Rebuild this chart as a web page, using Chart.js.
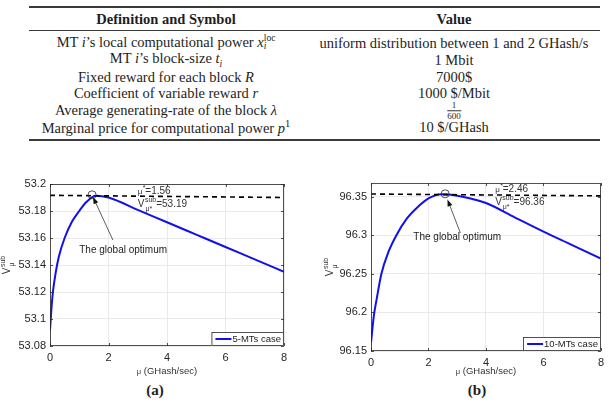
<!DOCTYPE html>
<html>
<head>
<meta charset="utf-8">
<script src="https://cdn.jsdelivr.net/npm/chart.js@4.4.0/dist/chart.umd.min.js"></script>
<style>
body { margin:0; width:609px; height:405px; background:#fff; position:relative; overflow:hidden; font-family:'Liberation Serif', 'DejaVu Serif', serif; color:#1e1e1e; }
.rule { position:absolute; left:29px; width:571px; background:#3a3a3a; }
.cell { position:absolute; transform:translate(-50%,-50%); white-space:nowrap; font-size:14.5px; line-height:1; }
.head { font-weight:bold; }
.ss { display:inline-block; vertical-align:middle; line-height:0.8; font-size:9.5px; text-align:left; position:relative; top:-1px; }
.ss span { display:block; }
.frac { display:inline-block; vertical-align:middle; font-size:9px; line-height:1; text-align:center; }
.frac span { display:block; }
.frac .den { border-top:0.8px solid #333; padding-top:0.5px; }
.cap { position:absolute; transform:translate(-50%,-50%); font-weight:bold; font-size:15px; }
canvas { position:absolute; }
</style>
</head>
<body>
<div class="rule" style="top:6px;height:1.5px"></div>
<div class="rule" style="top:30px;height:1px"></div>
<div class="rule" style="top:139px;height:2px"></div>
<div class="cell head" style="left:166px;top:19px">Definition and Symbol</div>
<div class="cell head" style="left:454px;top:19px">Value</div>
<div id="rows"></div>

<canvas id="ca" width="305" height="220" style="left:0;top:160px"></canvas>
<canvas id="cb" width="304" height="220" style="left:305px;top:160px"></canvas>
<div class="cap" style="left:155px;top:390px">(a)</div>
<div class="cap" style="left:477px;top:390px">(b)</div>

<script>
// table text
var defs = [
    "MT <i>i</i>’s local computational power <i>x</i><span class='ss'><span>loc</span><span><i>i</i></span></span>",
    "MT <i>i</i>’s block-size <i>t<sub style='font-size:9.5px'>i</sub></i>",
    "Fixed reward for each block <i>R</i>",
    "Coefficient of variable reward <i>r</i>",
    "Average generating-rate of the block <i>λ</i>",
    "Marginal price for computational power <i>p</i><sup style='font-size:10.5px'>1</sup>"
];
var vals = [
    "uniform distribution between 1 and 2 GHash/s",
    "1 Mbit",
    "7000$",
    "1000 $/Mbit",
    "<span class='frac'><span>1</span><span class='den'>600</span></span>",
    "10 $/GHash"
];

// chart data
var tickX = [0, 2, 4, 6, 8];
var tickYA = [53.08, 53.1, 53.12, 53.14, 53.16, 53.18, 53.2];
var tickYB = [96.15, 96.2, 96.25, 96.3, 96.35];

var muA = [0, 0.05, 0.1, 0.2, 0.3, 0.5, 0.75, 1.0, 1.25, 1.56, 2, 3, 4, 5, 6, 7, 8];
var vA = [53.0917, 53.108, 53.12, 53.135, 53.146, 53.160, 53.172, 53.180, 53.1868, 53.1913, 53.1900, 53.1808, 53.1717, 53.1625, 53.1533, 53.1442, 53.135];
var muB = [0, 0.1, 0.2, 0.36, 0.6, 0.88, 1.25, 1.6, 2.0, 2.46, 3.0, 3.5, 4, 5, 6, 7, 8];
var vB = [96.1608, 96.196, 96.218, 96.25, 96.278, 96.30, 96.322, 96.336, 96.348, 96.3534, 96.3515, 96.3475, 96.342, 96.3235, 96.305, 96.2875, 96.2698];

var dashA = [53.1916, 53.1900];   // at mu = 0 and mu = 8
var dashB = [96.3537, 96.3513];
var optA = [1.44, 53.192];
var optB = [2.58, 96.354];
var muStar = ['1.56', '2.46'];
var vStar = ['53.19', '96.36'];
var seriesNames = ['5-MTs case', '10-MTs case'];

var rowsHtml = '';
for (var i = 0; i < defs.length; i++) {
    var y = 43 + i * 16.8;
    rowsHtml += "<div class='cell' style='left:166px;top:" + y + "px'>" + defs[i] + "</div>";
    rowsHtml += "<div class='cell' style='left:454px;top:" + (i == 4 ? y + 1 : y) + "px'>" + vals[i] + "</div>";
}
document.getElementById('rows').innerHTML = rowsHtml;

var font = "'Liberation Sans', Arial, sans-serif";
var axisCol = '#262626';

function measureV(ctx, sub, fs) {
    ctx.font = fs + 'px ' + font;
    var w = ctx.measureText('V').width;
    ctx.font = Math.round(fs * 0.72) + 'px ' + font;
    return w + 0.5 + Math.max(ctx.measureText('sub').width, ctx.measureText(sub).width);
}

function drawV(ctx, x, y, sub, tail, fs) {
    ctx.textBaseline = 'middle';
    ctx.textAlign = 'left';
    ctx.font = fs + 'px ' + font;
    ctx.fillText('V', x, y);
    var w = ctx.measureText('V').width;
    var sfs = Math.round(fs * 0.72);
    ctx.font = sfs + 'px ' + font;
    ctx.fillText('sub', x + w + 0.5, y - fs * 0.4);
    ctx.fillText(sub, x + w + 1, y + fs * 0.5);
    var end = x + measureV(ctx, sub, fs);
    if (tail) {
        ctx.font = fs + 'px ' + font;
        ctx.fillText(tail, end, y);
    }
}

var figPlugin = {
    id: 'fig',
    afterDraw: function (chart) {
        var o = chart.options.plugins.fig;
        var ctx = chart.ctx, a = chart.chartArea, xs = chart.scales.x, ys = chart.scales.y;
        ctx.save();
        // inward tick marks and box
        ctx.strokeStyle = axisCol;
        ctx.lineWidth = 0.8;
        ctx.beginPath();
        xs.ticks.forEach(function (t) {
            var px = Math.round(xs.getPixelForValue(t.value)) + 0.5;
            ctx.moveTo(px, a.bottom); ctx.lineTo(px, a.bottom - 3);
            ctx.moveTo(px, a.top); ctx.lineTo(px, a.top + 3);
        });
        ys.ticks.forEach(function (t) {
            var py = Math.round(ys.getPixelForValue(t.value)) + 0.5;
            ctx.moveTo(a.left, py); ctx.lineTo(a.left + 3, py);
            ctx.moveTo(a.right, py); ctx.lineTo(a.right - 3, py);
        });
        ctx.stroke();
        ctx.strokeRect(a.left + 0.5, a.top + 0.5, a.right - a.left - 1, a.bottom - a.top - 1);

        // legend box
        ctx.font = '9.5px ' + font;
        var lab = chart.data.datasets[0].label;
        var lw = ctx.measureText(lab).width + 24;
        var lx = a.right - lw, ly = a.bottom - 14;
        ctx.fillStyle = '#fff';
        ctx.fillRect(lx, ly, lw, 14);
        ctx.strokeStyle = axisCol;
        ctx.strokeRect(lx + 0.5, ly + 0.5, lw - 1, 13);
        ctx.strokeStyle = chart.data.datasets[0].borderColor;
        ctx.lineWidth = 2;
        ctx.beginPath();
        ctx.moveTo(lx + 4, ly + 7); ctx.lineTo(lx + 20, ly + 7);
        ctx.stroke();
        ctx.fillStyle = '#1e1e1e';
        ctx.textBaseline = 'middle';
        ctx.textAlign = 'left';
        ctx.fillText(lab, lx + 21, ly + 7.5);

        // optimum notes
        ctx.fillStyle = '#333';
        var nx = xs.getPixelForValue(o.noteX);
        var n1 = ys.getPixelForValue(o.noteY1), n2 = ys.getPixelForValue(o.noteY2);
        ctx.font = '8px ' + font;
        ctx.fillText('μ', nx, n1 + 1);
        var mw = ctx.measureText('μ').width;
        ctx.font = '7px ' + font;
        ctx.fillText('*', nx + mw + 0.5, n1 - 3);
        ctx.font = '10px ' + font;
        ctx.fillText('=' + o.mu, nx + mw + 3, n1);
        drawV(ctx, nx, n2, 'μ*', '=' + o.v, 10);

        // arrow
        var tx = xs.getPixelForValue(o.tailX), ty = ys.getPixelForValue(o.tailY);
        var hx = xs.getPixelForValue(o.headX), hy = ys.getPixelForValue(o.headY);
        var ang = Math.atan2(hy - ty, hx - tx);
        ctx.strokeStyle = '#333';
        ctx.lineWidth = 0.8;
        ctx.beginPath();
        ctx.moveTo(tx, ty); ctx.lineTo(hx - 5 * Math.cos(ang), hy - 5 * Math.sin(ang));
        ctx.stroke();
        ctx.fillStyle = '#111';
        ctx.beginPath();
        ctx.moveTo(hx, hy);
        ctx.lineTo(hx - 7 * Math.cos(ang) + 2.5 * Math.sin(ang), hy - 7 * Math.sin(ang) - 2.5 * Math.cos(ang));
        ctx.lineTo(hx - 7 * Math.cos(ang) - 2.5 * Math.sin(ang), hy - 7 * Math.sin(ang) + 2.5 * Math.cos(ang));
        ctx.closePath();
        ctx.fill();
        ctx.fillStyle = '#222';
        ctx.font = '10px ' + font;
        ctx.textAlign = 'center';
        ctx.fillText('The global optimum', xs.getPixelForValue(o.textX), ys.getPixelForValue(o.textY));

        // axis titles
        ctx.fillStyle = '#333';
        ctx.font = '9.5px ' + font;
        var t2 = ' (GHash/sec)';
        var w2 = ctx.measureText(t2).width;
        ctx.font = '7.5px ' + font;
        var w1 = ctx.measureText('μ').width;
        var cx = (a.left + a.right) / 2 - (w1 + w2) / 2;
        ctx.textAlign = 'left';
        ctx.fillText('μ', cx, o.xTitleY + 1);
        ctx.font = '9.5px ' + font;
        ctx.fillText(t2, cx + w1, o.xTitleY);

        var vw = measureV(ctx, 'μ', 10);
        ctx.translate(a.left - o.yTitleOff, (a.top + a.bottom) / 2);
        ctx.rotate(-Math.PI / 2);
        drawV(ctx, -vw / 2, 0, 'μ', '', 10);
        ctx.restore();
    }
};

function trimNum(v) {
    return String(parseFloat(v.toFixed(4)));
}

function makeChart(id, c) {
    var pts = c.mu.map(function (m, i) { return { x: m, y: c.v[i] }; });
    return new Chart(document.getElementById(id), {
        type: 'line',
        data: {
            datasets: [{
                label: c.name,
                data: pts,
                borderColor: '#1010ee',
                borderWidth: 2,
                pointRadius: 0,
                cubicInterpolationMode: 'monotone',
                order: 2
            }, {
                label: 'level',
                data: [{ x: 0, y: c.dash[0] }, { x: 8, y: c.dash[1] }],
                borderColor: '#000',
                borderWidth: 1.6,
                borderDash: [5, 4],
                pointRadius: 0,
                order: 1
            }, {
                label: 'optimum',
                data: [{ x: c.opt[0], y: c.opt[1] }],
                showLine: false,
                pointRadius: 4,
                pointBorderWidth: 0.8,
                pointBorderColor: '#222',
                pointBackgroundColor: 'rgba(0,0,0,0)',
                order: 0
            }]
        },
        options: {
            responsive: false,
            animation: false,
            devicePixelRatio: 1,
            layout: { padding: c.pad },
            plugins: {
                legend: { display: false },
                tooltip: { enabled: false },
                fig: c.note
            },
            scales: {
                x: {
                    type: 'linear',
                    min: 0, max: 8,
                    afterBuildTicks: function (s) { s.ticks = tickX.map(function (v) { return { value: v }; }); },
                    afterFit: function (s) { s.height = c.xHeight; },
                    grid: { color: '#e4e4e4', lineWidth: 0.8, drawTicks: false },
                    border: { display: false },
                    ticks: { padding: 5, color: axisCol, font: { family: font, size: 11 }, maxRotation: 0 }
                },
                y: {
                    type: 'linear',
                    min: c.yMin, max: c.yMax,
                    afterBuildTicks: function (s) { s.ticks = c.yTicks.map(function (v) { return { value: v }; }); },
                    afterFit: function (s) { s.width = c.yWidth; },
                    grid: { color: '#e4e4e4', lineWidth: 0.8, drawTicks: false },
                    border: { display: false },
                    ticks: { padding: 4, color: axisCol, font: { family: font, size: 11 }, callback: trimNum }
                }
            }
        },
        plugins: [figPlugin]
    });
}

makeChart('ca', {
    name: seriesNames[0], mu: muA, v: vA, dash: dashA, opt: optA,
    yMin: 53.08, yMax: 53.2, yTicks: tickYA,
    yWidth: 50, xHeight: 34, pad: { top: 24, right: 21, left: 0, bottom: 0 },
    note: {
        mu: muStar[0], v: vStar[0], noteX: 3.0, noteY1: 53.195, noteY2: 53.1852,
        tailX: 2.15, tailY: 53.1585, headX: 1.47, headY: 53.1904, textX: 2.5, textY: 53.151,
        xTitleY: 211, yTitleOff: 43
    }
});

makeChart('cb', {
    name: seriesNames[1], mu: muB, v: vB, dash: dashB, opt: optB,
    yMin: 96.15, yMax: 96.368, yTicks: tickYB,
    yWidth: 66, xHeight: 29, pad: { top: 23, right: 3, left: 0, bottom: 0 },
    note: {
        mu: muStar[1], v: vStar[1], noteX: 4.32, noteY1: 96.3599, noteY2: 96.3432,
        tailX: 3.11, tailY: 96.3031, headX: 2.66, headY: 96.3467, textX: 3.0, textY: 96.297,
        xTitleY: 211, yTitleOff: 41
    }
});
</script>
</body>
</html>
